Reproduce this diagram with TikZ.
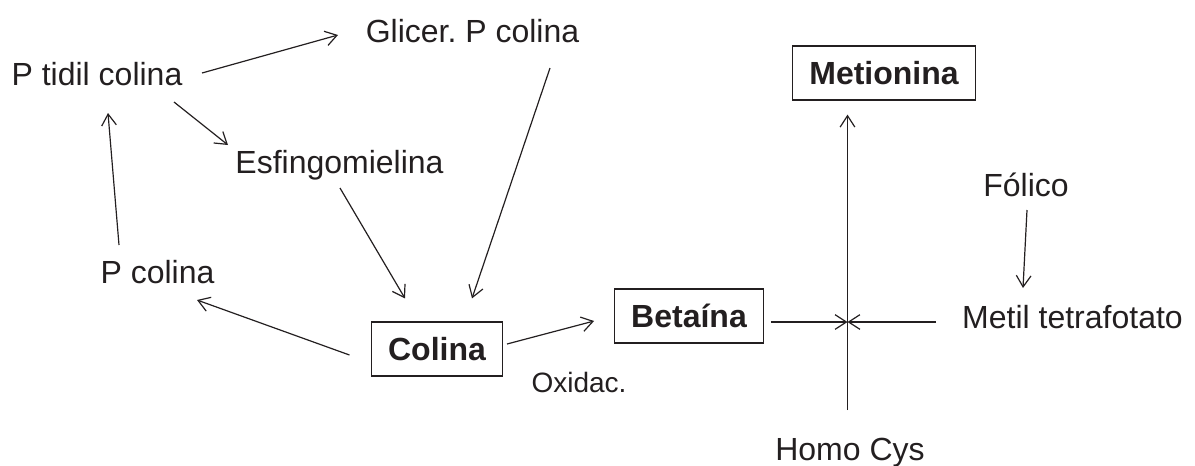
\documentclass[tikz,border=0pt]{standalone}
\usepackage{fontspec}
\setmainfont{Liberation Sans}
\usetikzlibrary{arrows.meta}
\definecolor{ink}{HTML}{231F20}
\frenchspacing
\begin{document}
\begin{tikzpicture}[x=0.75pt,y=-0.75pt,
  every node/.style={text=ink},
  lbl/.style={inner sep=0pt,anchor=base,font=\fontsize{24}{28}\selectfont},
  small/.style={inner sep=0pt,anchor=base,font=\fontsize{21}{25}\selectfont},
  boxed/.style={draw=ink,line width=0.9pt,inner xsep=12.4pt,inner ysep=0pt,
    minimum height=40.5pt,font=\fontsize{24}{28}\selectfont\bfseries},
  arr/.style={draw=ink,line width=0.9pt,-{Straight Barb[length=8.5pt,width=11pt]}},
  ln/.style={draw=ink,line width=0.9pt}]
\useasboundingbox (0,0) rectangle (1195,465);

% metabolites
\node[lbl] (ptidil)   at (97,85)    {P tidil colina};
\node[lbl] (glicer)   at (472.5,42) {Glicer. P colina};
\node[lbl] (esfingo)  at (339.5,173) {Esfingomielina};
\node[lbl] (pcolina)  at (157.5,283) {P colina};
\node[boxed] (colina) at (437,349)  {Colina};
\node[small] (oxidac) at (579,392)  {Oxidac.};
\node[boxed] (betaina) at (689,316) {Betaína};
\node[boxed] (metionina) at (884,73) {Metionina};
\node[lbl] (folico)   at (1026,196) {Fólico};
\node[lbl] (metil)    at (1072.5,328) {Metil tetrafotato};
\node[lbl] (homocys)  at (850,460)  {Homo Cys};
\coordinate (X) at (847.5,322);

% reactions
\draw[arr] ([shift={(105,-12)}]ptidil.base) -- ([shift={(-134.5,-7)}]glicer.base);
\draw[arr] ([shift={(77,17)}]ptidil.base) -- ([shift={(-111.5,-28)}]esfingo.base);
\draw[arr] ([shift={(-38.5,-38)}]pcolina.base) -- ([shift={(11,28)}]ptidil.base);
\draw[arr] ([shift={(0.5,15)}]esfingo.base) -- ([shift={(-32,-23)}]colina.north);
\draw[arr] ([shift={(77.5,26)}]glicer.base) -- ([shift={(35,-23)}]colina.north);
\draw[arr] ([shift={(-21.5,6)}]colina.west) -- ([shift={(39.5,17)}]pcolina.base);
\draw[arr] ([shift={(4,-5)}]colina.east) -- ([shift={(-20,5)}]betaina.west);
\draw[arr] ([shift={(7,6)}]betaina.east) -- (X);
\draw[arr] ([shift={(-136.5,-6)}]metil.base) -- (X);
\draw[arr] ([shift={(-2.5,-50)}]homocys.base) -- ([shift={(-36.5,14)}]metionina.south);
\draw[arr] ([shift={(1,14)}]folico.base) -- ([shift={(-49.5,-40)}]metil.base);
\end{tikzpicture}
\end{document}
